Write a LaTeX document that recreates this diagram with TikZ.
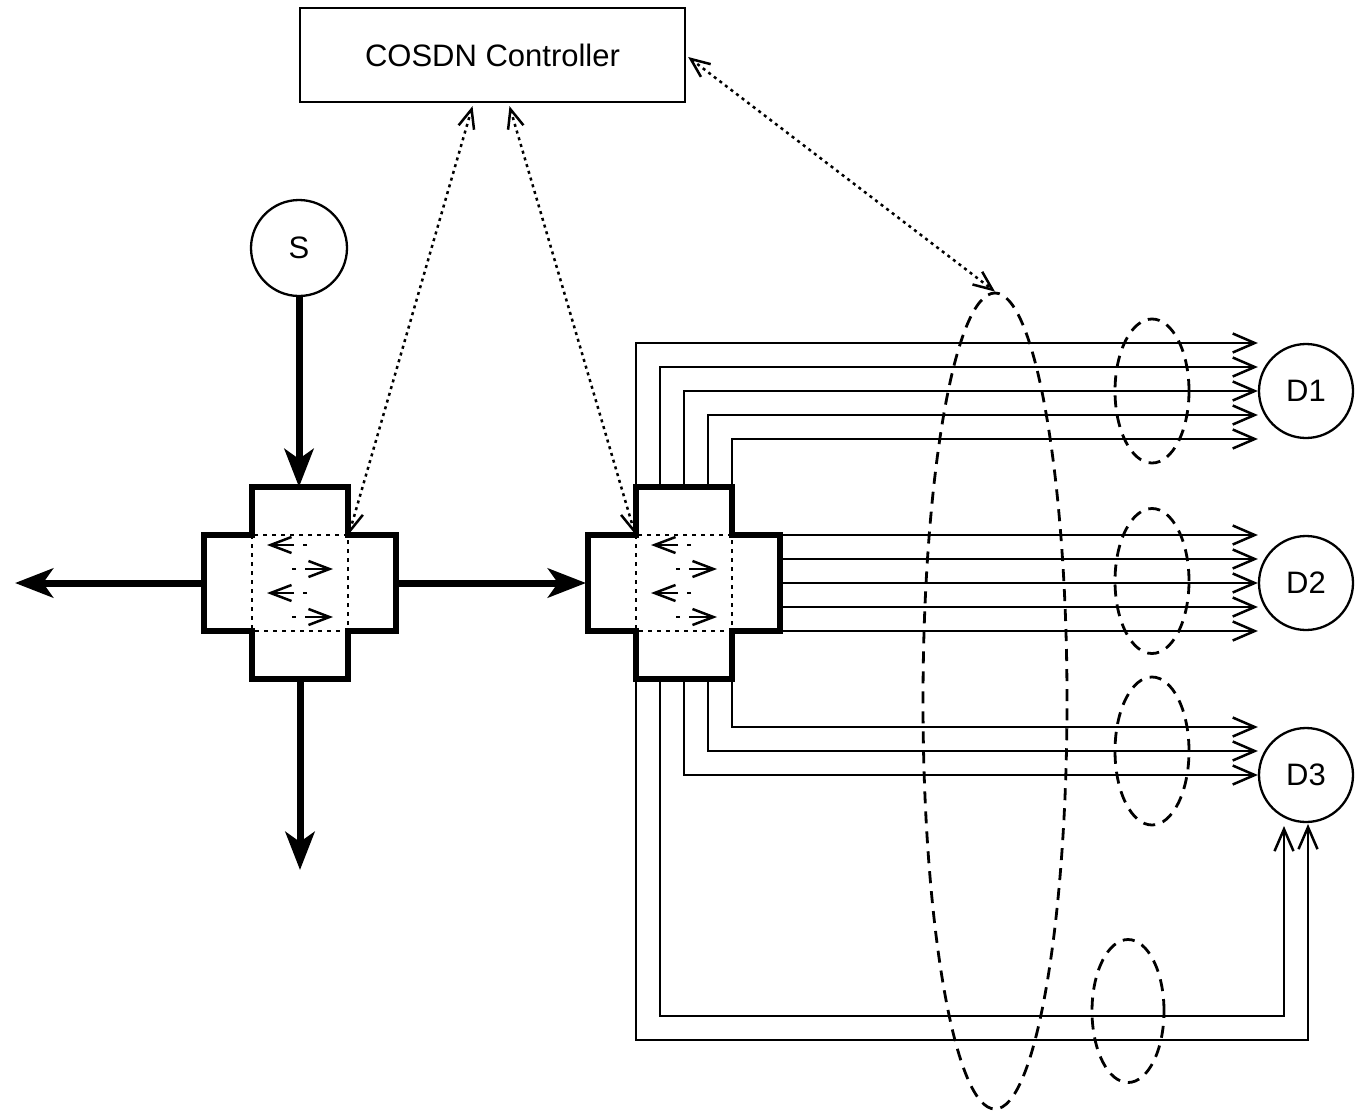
\documentclass[tikz,border=0pt]{standalone}
\usepackage{fontspec}
\setmainfont{Liberation Sans}
\usetikzlibrary{arrows.meta,shapes.geometric,calc}
\begin{document}
\begin{tikzpicture}[x=1pt,y=-1pt,
  every node/.style={font=\fontsize{31}{37}\selectfont},
  flow/.style={line width=2.5pt,-{Straight Barb[length=22pt,width=19pt]}},
  bigarrow/.style={line width=7pt,-{Stealth[length=38pt,width=29pt,inset=10pt]}},
  crossbox/.style={line width=5.5pt,line join=miter},
  ctl/.style={line width=2.5pt,dash pattern=on 3pt off 4pt,{Straight Barb[length=19pt,width=16pt]}-{Straight Barb[length=19pt,width=16pt]}},
  inner/.style={line width=2.5pt,dash pattern=on 4pt off 9pt on 40pt off 0pt,-{Straight Barb[length=21pt,width=16pt]}},
  dotsq/.style={line width=2.5pt,dash pattern=on 4pt off 5pt},
  ell/.style={ellipse,draw,line width=2.8pt,dash pattern=on 12pt off 8pt,inner sep=0pt},
  circ/.style={circle,draw,line width=2.3pt,inner sep=0pt}
]
\useasboundingbox (0,0) rectangle (1359,1114);

% nodes
\node[draw,line width=2.3pt,minimum width=385pt,minimum height=94pt,inner sep=0pt] (ctrl) at (492.5,55) {COSDN Controller};
\node[circ,minimum size=96pt] (S) at (299,248) {S};
\node[circ,minimum size=94pt] (D1) at (1306,391) {D1};
\node[circ,minimum size=94pt] (D2) at (1306,583) {D2};
\node[circ,minimum size=94pt] (D3) at (1306,775) {D3};

\coordinate (L) at (300,583);
\coordinate (R) at (684,583);
\coordinate (Ltop) at ($(L)+(0,-96)$);
\coordinate (Lw) at ($(L)+(-96,0)$);
\coordinate (Le) at ($(L)+(96,0)$);
\coordinate (Ls) at ($(L)+(0,96)$);
\coordinate (Rw) at ($(R)+(-98,0)$);
\coordinate (Lne) at ($(L)+(49,-49)$);
\coordinate (Rnw) at ($(R)+(-49,-49)$);
\coordinate (farW) at (15,583);
\coordinate (farS) at (300,870);

% crosses
\foreach \c in {L,R}{
  \draw[crossbox,shift={(\c)}] (-48,-96) -- (48,-96) -- (48,-48) -- (96,-48) -- (96,48) -- (48,48) -- (48,96) -- (-48,96) -- (-48,48) -- (-96,48) -- (-96,-48) -- (-48,-48) -- cycle;
  \draw[dotsq,shift={(\c)}] (-48,-48) rectangle (48,48);
  \draw[inner,shift={(\c)}] (7,-38) -- (-33,-38);
  \draw[inner,shift={(\c)}] (-8,-14) -- (33,-14);
  \draw[inner,shift={(\c)}] (7,10) -- (-33,10);
  \draw[inner,shift={(\c)}] (-8,34) -- (33,34);
}

% thick arrows
\draw[bigarrow] (S.south) -- (S.south |- Ltop);
\draw[bigarrow] (Lw) -- (farW);
\draw[bigarrow] (Le) -- (Rw);
\draw[bigarrow] (Ls) -- (farS);

% flows to D1
\foreach \i in {0,...,4}{
  \pgfmathsetmacro{\xx}{636+24*\i}
  \pgfmathsetmacro{\yy}{343+24*\i}
  \draw[flow] (\xx,487) |- (D1.west |- 0,\yy);
}
% flows to D2
\foreach \yy in {535,559,583,607,631}{
  \draw[flow] (780,\yy) -- (D2.west |- 0,\yy);
}
% flows to D3
\draw[flow] (732,679) |- (D3.west |- 0,727);
\draw[flow] (708,679) |- (D3.west |- 0,751);
\draw[flow] (684,679) |- (D3.west |- 0,775);
\coordinate (up1) at (1284,826);
\coordinate (up2) at (1308,824);
\draw[flow] (660,679) |- (up1 |- 0,1016) -- (up1);
\draw[flow] (636,679) |- (up2 |- 0,1040) -- (up2);

% dashed ellipses
\node[ell,minimum width=144pt,minimum height=816pt] (big) at (995,701) {};
\node[ell,minimum width=74pt,minimum height=144pt] (e1) at (1152,391) {};
\node[ell,minimum width=74pt,minimum height=145pt] (e2) at (1152,581) {};
\node[ell,minimum width=74pt,minimum height=148pt] (e3) at (1152,751) {};
\node[ell,minimum width=72pt,minimum height=143pt] (e4) at (1128,1011) {};

% controller links
\draw[ctl] ($(ctrl.south)+(-20,3)$) -- (Lne);
\draw[ctl] ($(ctrl.south)+(17,3)$) -- (Rnw);
\draw[ctl] ($(ctrl.east)+(2,2)$) -- (big.north);
\end{tikzpicture}
\end{document}
